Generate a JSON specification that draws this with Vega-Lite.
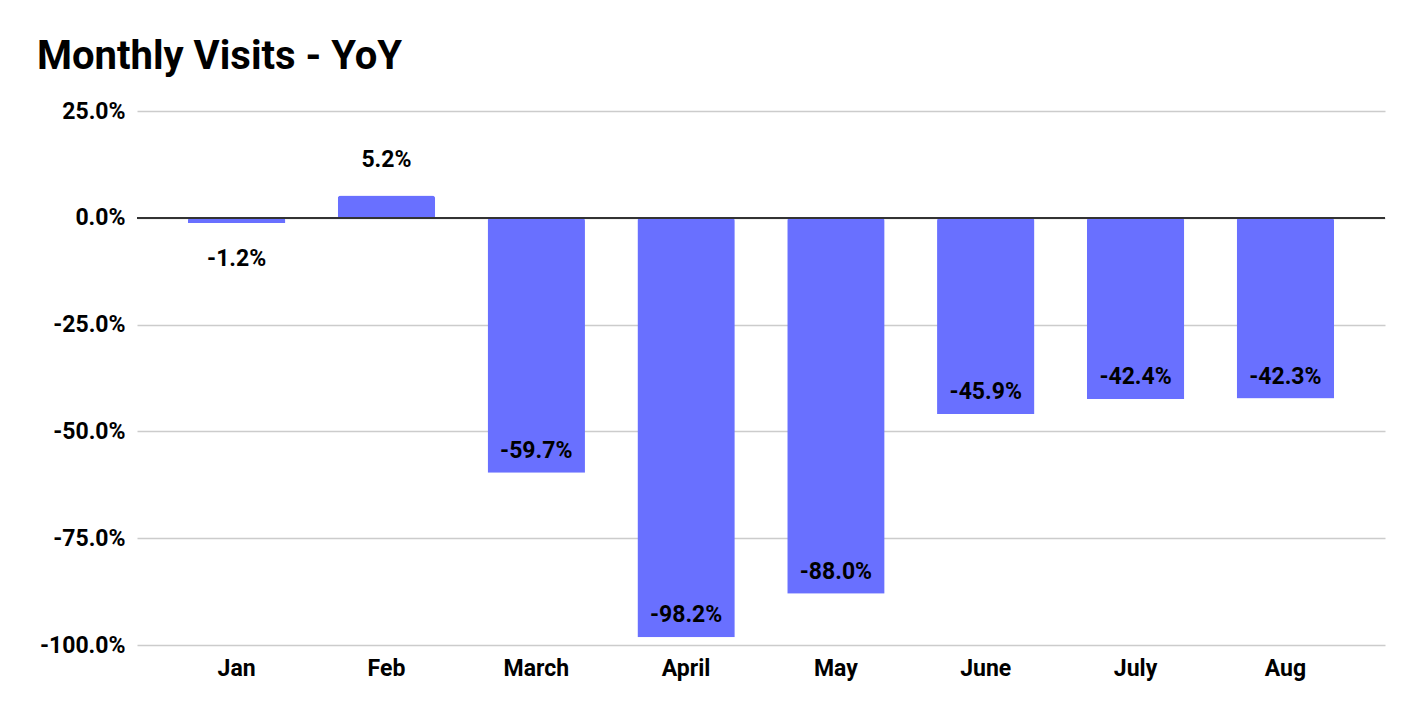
{
  "$schema": "https://vega.github.io/schema/vega-lite/v6.json",
  "width": 1248,
  "height": 534,
  "autosize": {"type": "none"},
  "padding": {"left": 137, "top": 111, "right": 35, "bottom": 73},
  "background": "white",
  "title": {
    "text": "Monthly Visits - YoY",
    "anchor": "start",
    "frame": "group",
    "dx": -100,
    "dy": 43,
    "font": "Roboto",
    "fontSize": 40,
    "fontWeight": "bold",
    "color": "#000000",
    "baseline": "alphabetic",
    "offset": 34
  },
  "data": {
    "values": [
      {"month": "Jan", "value": -1.2},
      {"month": "Feb", "value": 5.2},
      {"month": "March", "value": -59.7},
      {"month": "April", "value": -98.2},
      {"month": "May", "value": -88.0},
      {"month": "June", "value": -45.9},
      {"month": "July", "value": -42.4},
      {"month": "Aug", "value": -42.3}
    ]
  },
  "transform": [
    {"calculate": "replace(format(datum.value, '.1f'), '\u2212', '-') + '%'", "as": "label"}
  ],
  "config": {
    "view": {"stroke": null},
    "font": "Roboto"
  },
  "encoding": {
    "x": {
      "field": "month",
      "type": "nominal",
      "sort": null,
      "scale": {"paddingInner": 0.35, "paddingOuter": 0.34},
      "axis": {
        "title": null,
        "labelAngle": 0,
        "labelFont": "Roboto",
        "labelFontSize": 23,
        "labelFontWeight": "bold",
        "labelColor": "#000000",
        "labelPadding": 12,
        "ticks": false,
        "domain": false
      }
    },
    "y": {
      "field": "value",
      "type": "quantitative",
      "scale": {"domain": [-100, 25], "nice": false},
      "axis": {
        "title": null,
        "values": [-100, -75, -50, -25, 0, 25],
        "labelExpr": "replace(format(datum.value, '.1f'), '\u2212', '-') + '%'",
        "labelFont": "Roboto",
        "labelFontSize": 23,
        "labelFontWeight": "bold",
        "labelColor": "#000000",
        "labelPadding": 12,
        "ticks": false,
        "domain": false,
        "gridColor": "#cccccc",
        "gridWidth": 1.5
      }
    }
  },
  "layer": [
    {
      "mark": {"type": "bar", "color": "#6970ff", "cornerRadiusEnd": 3}
    },
    {
      "mark": {"type": "rule", "color": "#333333", "strokeWidth": 1.5},
      "encoding": {"y": {"datum": 0}, "x": {"value": 0}, "x2": {"value": 1248}}
    },
    {
      "transform": [{"filter": "datum.value < -10"}],
      "mark": {"type": "text", "font": "Roboto", "fontSize": 23, "fontWeight": "bold", "color": "#000000", "baseline": "middle", "dy": -22},
      "encoding": {"text": {"field": "label", "type": "nominal"}}
    },
    {
      "transform": [{"filter": "datum.value >= 0"}],
      "mark": {"type": "text", "font": "Roboto", "fontSize": 23, "fontWeight": "bold", "color": "#000000", "baseline": "middle", "dy": -36},
      "encoding": {"text": {"field": "label", "type": "nominal"}}
    },
    {
      "transform": [{"filter": "datum.value < 0 && datum.value >= -10"}],
      "mark": {"type": "text", "font": "Roboto", "fontSize": 23, "fontWeight": "bold", "color": "#000000", "baseline": "middle", "dy": 36},
      "encoding": {"text": {"field": "label", "type": "nominal"}}
    }
  ]
}
